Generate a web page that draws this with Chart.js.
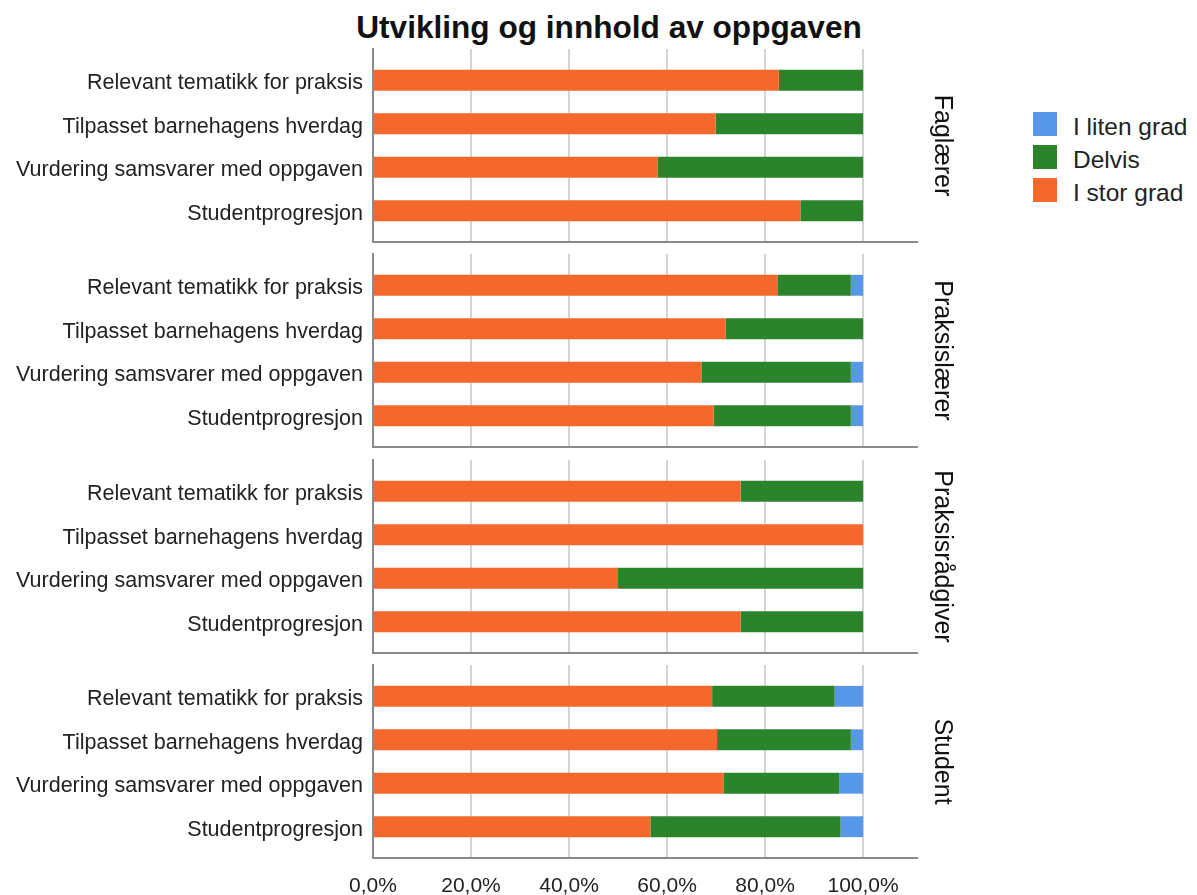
<!DOCTYPE html>
<html>
<head>
<meta charset="utf-8">
<script src="https://cdn.jsdelivr.net/npm/chart.js@4"></script>
<style>
  body { margin: 0; background: #fff; font-family: "Liberation Sans", Arial, sans-serif; }
  #tittel {
    position: absolute; left: 609px; top: 11px; transform: translateX(-50%);
    font-size: 31.6px; line-height: 32px; font-weight: bold; white-space: nowrap; color: #111;
  }
  canvas { position: absolute; left: 0; }
  #forklaring { position: absolute; left: 1033px; top: 112px; }
  .rad { position: relative; height: 24px; margin-bottom: 9px; }
  .boks { position: absolute; left: 0; top: 0; width: 24px; height: 24px; }
  .tekst { position: absolute; left: 40px; top: 0; font-size: 24.5px; line-height: 29px; white-space: nowrap; color: #222; }
</style>
</head>
<body>
<div id="tittel">Utvikling og innhold av oppgaven</div>
<div id="forklaring"></div>
<canvas id="panel0" width="965" height="200"></canvas>
<canvas id="panel1" width="965" height="200"></canvas>
<canvas id="panel2" width="965" height="200"></canvas>
<canvas id="panel3" width="965" height="233"></canvas>

<script>
// DATA
const kategorier = [
  "Relevant tematikk for praksis",
  "Tilpasset barnehagens hverdag",
  "Vurdering samsvarer med oppgaven",
  "Studentprogresjon"
];
const grupper = ["Faglærer", "Praksislærer", "Praksisrådgiver", "Student"];
const serier = ["I stor grad", "Delvis", "I liten grad"];
const farger = ["#f4692b", "#2b832b", "#5797e8"];

// en rad per gruppe, en verdi per kategori (prosent)
const iStorGrad = [
  [82.8, 69.9, 58.1, 87.2],
  [82.5, 72.0, 67.0, 69.5],
  [75.0, 100.0, 50.0, 75.0],
  [69.2, 70.2, 71.6, 56.6]
];
const delvis = [
  [17.2, 30.1, 41.9, 12.8],
  [15.0, 28.0, 30.5, 28.0],
  [25.0, 0.0, 50.0, 25.0],
  [25.0, 27.3, 23.5, 38.8]
];
const iLitenGrad = [
  [0, 0, 0, 0],
  [2.5, 0, 2.5, 2.5],
  [0, 0, 0, 0],
  [5.8, 2.5, 4.9, 4.6]
];
const xTicks = [0, 20, 40, 60, 80, 100];

Chart.defaults.font.family = '"Liberation Sans", Arial, sans-serif';
Chart.defaults.color = "#222";

const plotTopp = [49, 254, 460, 665];
const plotHoyde = 193;

function prosent(v) {
  return v.toFixed(1).replace(".", ",") + "%";
}

function lagPanel(g) {
  const canvas = document.getElementById("panel" + g);
  canvas.style.top = (plotTopp[g] - 3) + "px";
  const sist = g === grupper.length - 1;
  const xHoyde = canvas.height - 3 - plotHoyde;

  const verdier = [iStorGrad[g], delvis[g], iLitenGrad[g]];

  new Chart(canvas, {
    type: "bar",
    data: {
      datasets: serier.map((navn, s) => ({
        label: navn,
        data: verdier[s].map((v, i) => ({ x: v, y: i })),
        backgroundColor: farger[s],
        borderWidth: 0,
        categoryPercentage: 1,
        barPercentage: 0.48
      }))
    },
    options: {
      indexAxis: "y",
      responsive: false,
      animation: false,
      layout: { padding: { top: 3, bottom: 0, left: 0, right: 0 } },
      plugins: {
        legend: { display: false },
        tooltip: { enabled: false }
      },
      scales: {
        x: {
          stacked: true,
          min: 0,
          max: 111,
          afterBuildTicks: s => { s.ticks = xTicks.map(v => ({ value: v })); },
          afterFit: s => {
            s.height = xHoyde;
            s.paddingLeft = 0;
            s.paddingRight = 0;
          },
          grid: {
            drawTicks: false,
            lineWidth: 2,
            color: ctx => (ctx.tick && ctx.tick.value === 0) ? "rgba(0,0,0,0)" : "#d4d4d4"
          },
          border: { display: true, color: "#8a8a8a", width: 2 },
          ticks: {
            display: sist,
            padding: 16,
            font: { size: 21 },
            callback: v => prosent(v)
          }
        },
        y: {
          type: "linear",
          stacked: true,
          reverse: true,
          offset: false,
          min: -0.72,
          max: 3.72,
          afterBuildTicks: s => { s.ticks = kategorier.map((k, i) => ({ value: i })); },
          afterFit: s => {
            s.width = 373;
            s.paddingTop = 0;
            s.paddingBottom = 0;
          },
          grid: { display: false, drawTicks: false, offset: false },
          border: { display: true, color: "#8a8a8a", width: 2 },
          ticks: {
            padding: 10,
            labelOffset: 3,
            font: { size: 21.5 },
            callback: v => kategorier[v]
          }
        },
        gruppe: {
          type: "linear",
          position: "right",
          afterFit: s => {
            s.width = 48;
            s.paddingTop = 0;
            s.paddingBottom = 0;
          },
          grid: { display: false, drawTicks: false },
          border: { display: false },
          ticks: { display: false },
          title: {
            display: true,
            text: grupper[g],
            color: "#111",
            font: { size: 25 },
            padding: { top: 8, bottom: 0 }
          }
        }
      }
    }
  });
}

// FORKLARING (omvendt rekkefølge)
function lagForklaring() {
  const boks = document.getElementById("forklaring");
  for (let s = serier.length - 1; s >= 0; s--) {
    const rad = document.createElement("div");
    rad.className = "rad";
    rad.innerHTML = '<div class="boks" style="background:' + farger[s] + '"></div>' +
      '<div class="tekst">' + serier[s] + '</div>';
    boks.appendChild(rad);
  }
}

grupper.forEach((navn, g) => lagPanel(g));
lagForklaring();
</script>
</body>
</html>
